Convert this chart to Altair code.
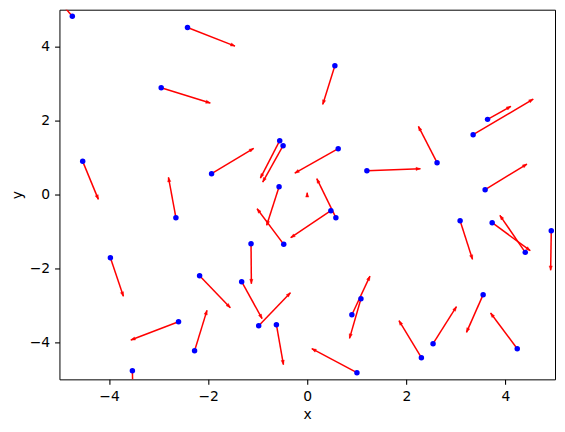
import math
import altair as alt
import pandas as pd

# point positions (blue dots)
px = [-4.74, -2.416, -2.947, 0.558, 3.639, 3.348, 2.62, 1.204, 3.59, 3.085,
      3.732, 4.4, 4.925, -4.531, -2.65, -1.93, -0.555, -0.487, 0.625, -0.568,
      0.477, 0.578, -0.474, -1.134, -3.972, -2.172, -2.597, -2.273, -3.528, -1.323,
      -0.979, -0.622, 1.003, 1.084, 0.901, 3.55, 2.539, 2.304, 4.238]
py = [4.82, 4.52, 2.89, 3.484, 2.033, 1.619, 0.861, 0.645, 0.131, -0.708,
      -0.762, -1.565, -0.98, 0.897, -0.626, 0.563, 1.456, 1.32, 1.24, 0.212,
      -0.437, -0.626, -1.348, -1.33, -1.709, -2.196, -3.44, -4.224, -4.765, -2.358,
      -3.549, -3.522, -4.82, -2.818, -3.251, -2.709, -4.035, -4.414, -4.171]
# arrow tips
tx = [-4.95, -1.457, -1.956, 0.314, 4.11, 4.561, 2.244, 2.284, 4.434, 3.335,
      4.5, 3.888, 4.912, -4.215, -2.8, -1.081, -0.945, -0.898, -0.251, -0.818,
      -0.333, 0.193, -1.012, -1.127, -3.71, -1.552, -3.56, -2.023, -3.52, -0.911,
      -0.339, -0.48, 0.092, 0.854, 1.266, 3.214, 3.011, 1.852, 3.7]
ty = [5.15, 4.015, 2.474, 2.438, 2.385, 2.582, 1.843, 0.699, 0.824, -1.754,
      -1.519, -0.564, -2.05, -0.131, 0.464, 1.248, 0.445, 0.337, 0.58, -0.834,
      -1.167, 0.428, -0.383, -2.412, -2.755, -3.062, -3.937, -3.134, -5.3, -3.358,
      -2.655, -4.603, -4.17, -3.891, -2.206, -3.729, -3.034, -3.413, -3.207]
# tiny arrow with no visible dot
stub_x0, stub_y0, stub_x1, stub_y1 = [0.0], [-0.05], [0.0], [0.05]

W, H = 496, 370
sx, sy = W / 10.0, H / 10.0

rows = []
for a, b, c, d in zip(px + stub_x0, py + stub_y0, tx + stub_x1, ty + stub_y1):
    ang = math.degrees(math.atan2((c - a) * sx, (d - b) * sy)) % 360
    rows.append({"x": a, "y": b, "x2": c, "y2": d, "ang": ang})
arrows = pd.DataFrame(rows)
dots = pd.DataFrame({"x": px, "y": py})

xs = alt.Scale(domain=[-5, 5], nice=False, zero=False)
ys = alt.Scale(domain=[-5, 5], nice=False, zero=False)
ax_common = dict(values=[-4, -2, 0, 2, 4], grid=False, domain=False,
                 tickColor="black", tickSize=4.9, tickWidth=1.1,
                 labelFontSize=13.9, labelFont="DejaVu Sans", labelColor="black",
                 labelPadding=4.9, titleFont="DejaVu Sans", titleFontSize=13.9,
                 titleFontWeight="normal", titleColor="black")
xax = alt.Axis(title="x", titlePadding=4, **ax_common)
yax = alt.Axis(title="y", titlePadding=5, **ax_common)

lines = alt.Chart(arrows).mark_rule(color="red", strokeWidth=1.5, clip=True).encode(
    x=alt.X("x:Q", scale=xs, axis=xax), y=alt.Y("y:Q", scale=ys, axis=yax),
    x2="x2:Q", y2="y2:Q")
heads = alt.Chart(arrows).mark_point(
    shape="M0,0 L0.4,1.1 L-0.4,1.1 Z", filled=True, fill="red", stroke="red",
    strokeWidth=0.4, opacity=1, fillOpacity=1, size=64, clip=True).encode(
    x=alt.X("x2:Q", scale=xs), y=alt.Y("y2:Q", scale=ys),
    angle=alt.Angle("ang:Q", scale=None))
points = alt.Chart(dots).mark_circle(color="blue", size=30, opacity=1, clip=True).encode(
    x=alt.X("x:Q", scale=xs), y=alt.Y("y:Q", scale=ys))

chart = alt.layer(lines, heads, points).properties(
    width=W, height=H,
    background="white",
    autosize=alt.AutoSizeParams(type="none"),
    padding={"left": 51.5, "top": 1.5, "right": 2, "bottom": 45},
).configure_view(stroke="black", strokeWidth=1, strokeOpacity=1)

chart.save("out.html", embed_options={"renderer": "svg", "actions": False})
